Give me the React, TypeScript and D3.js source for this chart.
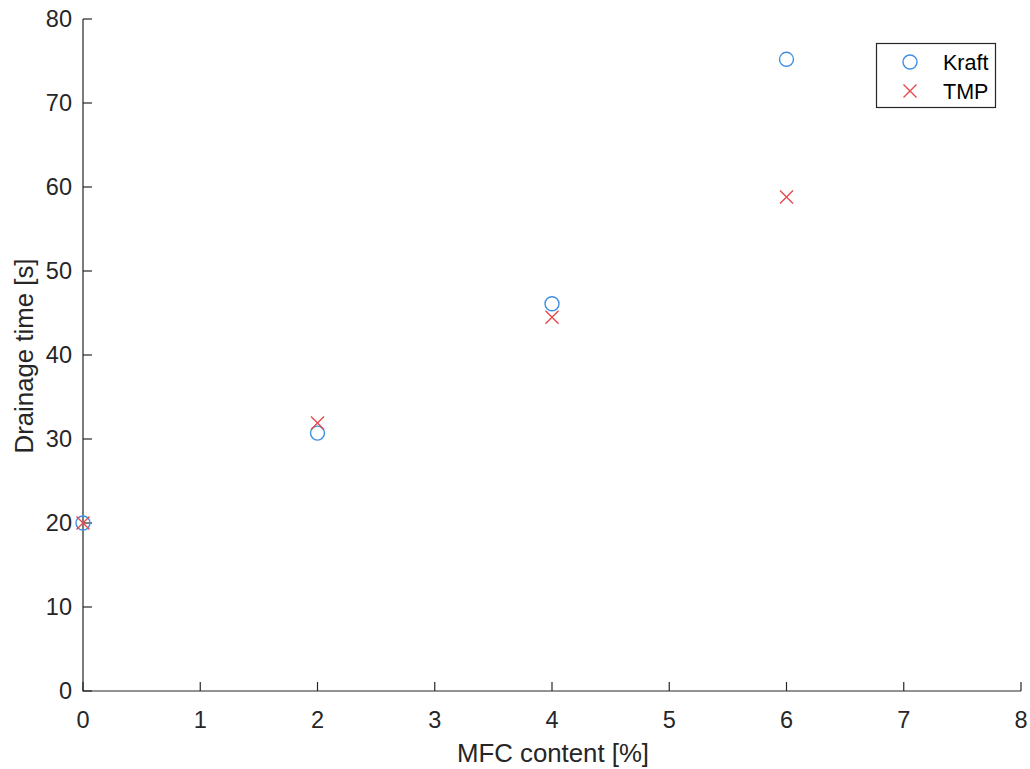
import React from "react";
import * as d3 from "d3";

const mfc = [0, 2, 4, 6];
const kraft = [20.0, 30.7, 46.1, 75.2];
const tmp = [20.0, 31.9, 44.5, 58.8];
const xTicks = [0, 1, 2, 3, 4, 5, 6, 7, 8];
const yTicks = [0, 10, 20, 30, 40, 50, 60, 70, 80];
const seriesNames = ["Kraft", "TMP"];

const W = 1030, H = 769;
const L = 83, R = 1021, T = 19, B = 691;
const axisColor = "#262626";
const blue = "#3F8FE0";
const red = "#E5484D";
const font = "'Liberation Sans', Arial, Helvetica, sans-serif";

export default function App() {
  const x = d3.scaleLinear().domain([0, 8]).range([L, R]);
  const y = d3.scaleLinear().domain([0, 80]).range([B, T]);
  const tl = 9;
  const cross = (cx: number, cy: number, s: number) =>
    `M${cx - s},${cy - s}L${cx + s},${cy + s}M${cx - s},${cy + s}L${cx + s},${cy - s}`;
  return (
    <svg width={W} height={H} style={{ position: "absolute", left: 0, top: 0 }} fontFamily={font}>
      <rect width={W} height={H} fill="#fff" />
      <path d={`M${L},${T}V${B}H${R}`} fill="none" stroke={axisColor} strokeWidth={1.2} />
      {xTicks.map((t) => (
        <g key={"x" + t}>
          <line x1={x(t)} x2={x(t)} y1={B} y2={B - tl} stroke={axisColor} strokeWidth={1.2} />
          <text x={x(t)} y={B + 37} textAnchor="middle" fontSize={23.5} fill={axisColor}>{t}</text>
        </g>
      ))}
      {yTicks.map((t) => (
        <g key={"y" + t}>
          <line x1={L} x2={L + tl} y1={y(t)} y2={y(t)} stroke={axisColor} strokeWidth={1.2} />
          <text x={L - 11} y={y(t)} dy="0.36em" textAnchor="end" fontSize={23.5} fill={axisColor}>{t}</text>
        </g>
      ))}
      <text x={(L + R) / 2 + 1} y={762} textAnchor="middle" fontSize={25.8} fill={axisColor}>MFC content [%]</text>
      <text transform={`translate(33,${(T + B) / 2 + 1}) rotate(-90)`} textAnchor="middle" fontSize={25.8} fill={axisColor}>Drainage time [s]</text>
      {mfc.map((m, i) => (
        <circle key={"k" + i} cx={x(m)} cy={y(kraft[i])} r={7} fill="none" stroke={blue} strokeWidth={1.4} />
      ))}
      {mfc.map((m, i) => (
        <path key={"t" + i} d={cross(x(m), y(tmp[i]), 6.5)} fill="none" stroke={red} strokeWidth={1.4} />
      ))}
      <rect x={876.5} y={43.5} width={119} height={64} fill="#fff" stroke={axisColor} strokeWidth={1.2} />
      <circle cx={910} cy={62} r={7} fill="none" stroke={blue} strokeWidth={1.4} />
      <path d={cross(910, 91, 6.5)} fill="none" stroke={red} strokeWidth={1.4} />
      <text x={943} y={62} dy="0.36em" fontSize={21.5} fill="#000">{seriesNames[0]}</text>
      <text x={943} y={91} dy="0.36em" fontSize={21.5} fill="#000">{seriesNames[1]}</text>
    </svg>
  );
}
